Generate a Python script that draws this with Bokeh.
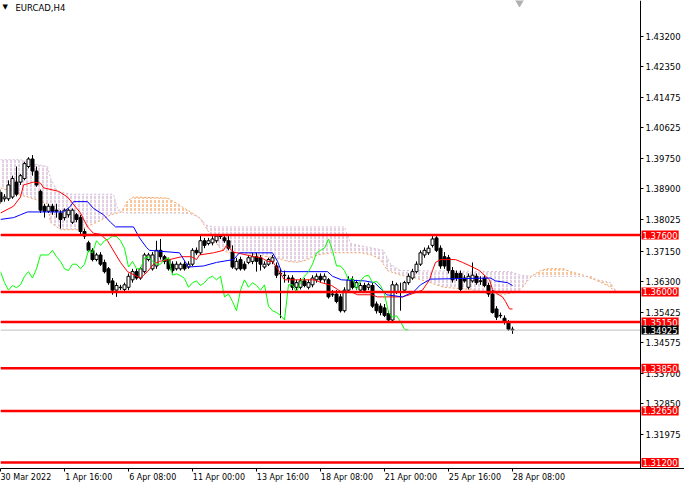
from bokeh.plotting import figure
from bokeh.models import Range1d, FixedTicker, PrintfTickFormatter, Label, ColumnDataSource, LinearAxis
from bokeh.embed import file_html
from bokeh.resources import INLINE

# ---------------- data (EURCAD H4, bar index 0 = 30 Mar 2022 00:00) ----------------
opens = [
    1.3880, 1.3862, 1.3862, 1.3867, 1.3909, 1.3909, 1.3919, 1.3953, 1.3974, 1.3940,
    1.3883, 1.3841, 1.3827, 1.3841, 1.3830, 1.3822, 1.3809, 1.3817, 1.3796, 1.3817,
    1.3809, 1.3770, 1.3738, 1.3717, 1.3691, 1.3704, 1.3683, 1.3665, 1.3631, 1.3605,
    1.3613, 1.3607, 1.3613, 1.3634, 1.3657, 1.3639, 1.3657, 1.3691, 1.3665, 1.3673,
    1.3717, 1.3699, 1.3691, 1.3678, 1.3665, 1.3665, 1.3678, 1.3670, 1.3678, 1.3717,
    1.3710, 1.3744, 1.3736, 1.3738, 1.3744, 1.3757, 1.3752, 1.3744, 1.3712, 1.3665,
    1.3691, 1.3678, 1.3683, 1.3686, 1.3699, 1.3696, 1.3670, 1.3678, 1.3686, 1.3673,
    1.3652, 1.3647, 1.3639, 1.3639, 1.3613, 1.3613, 1.3631, 1.3613, 1.3620, 1.3634,
    1.3644, 1.3634, 1.3634, 1.3592, 1.3594, 1.3586, 1.3547, 1.3605, 1.3634, 1.3613,
    1.3605, 1.3618, 1.3613, 1.3618, 1.3566, 1.3560, 1.3555, 1.3539, 1.3521, 1.3600,
    1.3600, 1.3605, 1.3626, 1.3639, 1.3657, 1.3678, 1.3704, 1.3710, 1.3731, 1.3752,
    1.3723, 1.3699, 1.3696, 1.3660, 1.3652, 1.3652, 1.3639, 1.3613, 1.3631, 1.3644,
    1.3631, 1.3639, 1.3618, 1.3594, 1.3552, 1.3534, 1.3526, 1.3516, 1.3495]
highs = [
    1.3888, 1.3875, 1.3914, 1.3927, 1.3953, 1.3932, 1.3966, 1.3979, 1.3985, 1.3953,
    1.3888, 1.3848, 1.3848, 1.3848, 1.3848, 1.3830, 1.3835, 1.3835, 1.3835, 1.3822,
    1.3817, 1.3778, 1.3744, 1.3723, 1.3710, 1.3712, 1.3691, 1.3670, 1.3639, 1.3626,
    1.3620, 1.3626, 1.3652, 1.3665, 1.3665, 1.3670, 1.3710, 1.3710, 1.3712, 1.3744,
    1.3749, 1.3704, 1.3696, 1.3686, 1.3686, 1.3683, 1.3686, 1.3686, 1.3723, 1.3725,
    1.3762, 1.3752, 1.3752, 1.3757, 1.3762, 1.3762, 1.3757, 1.3757, 1.3731, 1.3696,
    1.3699, 1.3686, 1.3704, 1.3710, 1.3710, 1.3704, 1.3686, 1.3696, 1.3704, 1.3683,
    1.3665, 1.3660, 1.3647, 1.3647, 1.3634, 1.3639, 1.3639, 1.3634, 1.3647, 1.3652,
    1.3652, 1.3652, 1.3639, 1.3605, 1.3605, 1.3594, 1.3613, 1.3644, 1.3644, 1.3634,
    1.3626, 1.3626, 1.3626, 1.3626, 1.3573, 1.3568, 1.3566, 1.3547, 1.3631, 1.3626,
    1.3626, 1.3631, 1.3652, 1.3665, 1.3686, 1.3717, 1.3725, 1.3731, 1.3757, 1.3757,
    1.3731, 1.3712, 1.3704, 1.3670, 1.3660, 1.3660, 1.3647, 1.3652, 1.3683, 1.3652,
    1.3644, 1.3647, 1.3626, 1.3605, 1.3560, 1.3542, 1.3534, 1.3521, 1.3502]
lows = [
    1.3848, 1.3854, 1.3856, 1.3862, 1.3869, 1.3901, 1.3914, 1.3948, 1.3927, 1.3896,
    1.3822, 1.3809, 1.3822, 1.3817, 1.3809, 1.3778, 1.3801, 1.3809, 1.3791, 1.3796,
    1.3762, 1.3749, 1.3712, 1.3686, 1.3686, 1.3673, 1.3652, 1.3620, 1.3592, 1.3586,
    1.3605, 1.3602, 1.3605, 1.3626, 1.3634, 1.3634, 1.3652, 1.3686, 1.3660, 1.3665,
    1.3691, 1.3678, 1.3660, 1.3652, 1.3660, 1.3660, 1.3660, 1.3665, 1.3673, 1.3704,
    1.3704, 1.3723, 1.3731, 1.3731, 1.3738, 1.3749, 1.3738, 1.3717, 1.3665, 1.3660,
    1.3660, 1.3660, 1.3678, 1.3678, 1.3657, 1.3660, 1.3665, 1.3673, 1.3678, 1.3639,
    1.3526, 1.3626, 1.3626, 1.3605, 1.3605, 1.3607, 1.3613, 1.3607, 1.3613, 1.3626,
    1.3626, 1.3626, 1.3581, 1.3586, 1.3568, 1.3542, 1.3542, 1.3600, 1.3607, 1.3605,
    1.3600, 1.3600, 1.3605, 1.3555, 1.3539, 1.3534, 1.3529, 1.3516, 1.3516, 1.3594,
    1.3547, 1.3600, 1.3620, 1.3634, 1.3652, 1.3673, 1.3696, 1.3704, 1.3725, 1.3712,
    1.3665, 1.3665, 1.3652, 1.3626, 1.3631, 1.3600, 1.3626, 1.3607, 1.3626, 1.3620,
    1.3620, 1.3613, 1.3586, 1.3539, 1.3521, 1.3526, 1.3508, 1.3490, 1.3482]
closes = [
    1.3854, 1.3867, 1.3901, 1.3919, 1.3875, 1.3927, 1.3961, 1.3974, 1.3940, 1.3901,
    1.3830, 1.3827, 1.3841, 1.3827, 1.3827, 1.3804, 1.3830, 1.3830, 1.3830, 1.3804,
    1.3770, 1.3757, 1.3717, 1.3691, 1.3704, 1.3678, 1.3657, 1.3626, 1.3605, 1.3618,
    1.3612, 1.3620, 1.3644, 1.3657, 1.3639, 1.3665, 1.3704, 1.3704, 1.3704, 1.3717,
    1.3699, 1.3686, 1.3665, 1.3660, 1.3678, 1.3678, 1.3665, 1.3678, 1.3717, 1.3710,
    1.3744, 1.3731, 1.3744, 1.3749, 1.3757, 1.3756, 1.3744, 1.3723, 1.3670, 1.3686,
    1.3665, 1.3665, 1.3696, 1.3699, 1.3686, 1.3678, 1.3678, 1.3691, 1.3696, 1.3647,
    1.3651, 1.3646, 1.3638, 1.3613, 1.3626, 1.3631, 1.3618, 1.3626, 1.3639, 1.3644,
    1.3634, 1.3644, 1.3586, 1.3594, 1.3573, 1.3547, 1.3605, 1.3634, 1.3613, 1.3626,
    1.3618, 1.3605, 1.3620, 1.3560, 1.3547, 1.3542, 1.3534, 1.3521, 1.3620, 1.3620,
    1.3599, 1.3626, 1.3644, 1.3657, 1.3678, 1.3710, 1.3717, 1.3723, 1.3749, 1.3717,
    1.3673, 1.3673, 1.3660, 1.3634, 1.3639, 1.3607, 1.3631, 1.3644, 1.3647, 1.3626,
    1.3630, 1.3618, 1.3594, 1.3542, 1.3529, 1.3533, 1.3516, 1.3495, 1.34925]

# Ichimoku lines (bar index, price)
tenkan_x = [0, 3.25, 5, 5.75, 8.25, 10, 10.75, 14.5, 16.75, 20, 21.75, 23.25, 25, 26.75, 30, 31.75,
            35, 36.75, 38.25, 39.75, 42.25, 45.25, 47.75, 49, 49.75, 53.25, 55.75, 56.5, 57.25, 58.25,
            63.5, 65.25, 66.75, 68, 69.25, 71, 78.5, 80.25, 82.75, 84.25, 85.25, 87.75, 89.25, 92.75,
            94.25, 100.5, 102.25, 105.5, 107.25, 108, 108.75, 110, 113.75, 115.5, 118, 119.75, 120.5,
            122.25, 123, 124.25, 125.5, 126.25, 127.25, 128]
tenkan_y = [1.3822, 1.3841, 1.3867, 1.3901, 1.3909, 1.3906, 1.3893, 1.3883, 1.3867, 1.3822, 1.3783,
            1.3765, 1.3762, 1.3744, 1.3683, 1.3657, 1.3639, 1.3657, 1.3678, 1.3686, 1.3691, 1.3699,
            1.3699, 1.3691, 1.3704, 1.3710, 1.3717, 1.3731, 1.3723, 1.3712, 1.3699, 1.3696, 1.3686,
            1.3686, 1.3665, 1.3634, 1.3634, 1.3626, 1.3618, 1.3607, 1.3600, 1.3600, 1.3592, 1.3592,
            1.3586, 1.3586, 1.3592, 1.3605, 1.3634, 1.3660, 1.3683, 1.3691, 1.3691, 1.3683, 1.3670,
            1.3660, 1.3652, 1.3634, 1.3607, 1.3594, 1.3586, 1.3573, 1.3552, 1.3552]
kijun_x = [0, 3.25, 5, 6.75, 15.75, 17.5, 18.25, 21.75, 23.25, 25.75, 27.5, 28.75, 33.25, 34.75,
           36.5, 37.25, 44.75, 47, 50.75, 54, 58.25, 59.75, 68, 69.25, 70.25, 81.75, 83, 85.25, 91,
           93.5, 95.25, 96.5, 100.5, 103.25, 105, 107.5, 122.5, 123.75, 126.75, 128]
kijun_y = [1.3804, 1.3809, 1.3817, 1.3825, 1.3825, 1.3841, 1.3854, 1.3854, 1.3835, 1.3817, 1.3796,
           1.3783, 1.3783, 1.3752, 1.3725, 1.3717, 1.3710, 1.3670, 1.3673, 1.3683, 1.3691, 1.3710,
           1.3710, 1.3686, 1.3657, 1.3657, 1.3644, 1.3634, 1.3631, 1.3626, 1.3607, 1.3592, 1.3586,
           1.3600, 1.3620, 1.3636, 1.3639, 1.3631, 1.3626, 1.3618]
span_a_x = [0, 4.25, 8.25, 11.75, 12.5, 15, 20, 22.5, 25, 27.5, 30.25, 31.75, 33.25, 41.75, 44.25,
            46.75, 49.75, 51.5, 53.25, 54.75, 56.5, 60.75, 64, 68.5, 71.75, 74.25, 76.75, 79.25,
            82.75, 90.25, 92.75, 95, 96.75, 100, 103.75, 107.5, 110.75, 117.5, 122.5, 126.25,
            129.25, 130.5, 131.75, 132.75, 135, 136.75, 140.75, 142.5, 145.75, 149.25, 151.75, 154]
span_a_y = [1.3893, 1.3875, 1.3862, 1.3848, 1.3796, 1.3775, 1.3775, 1.3788, 1.3801, 1.3817, 1.3825,
            1.3856, 1.3867, 1.3864, 1.3848, 1.3830, 1.3809, 1.3778, 1.3749, 1.3725, 1.3712, 1.3710,
            1.3704, 1.3696, 1.3686, 1.3683, 1.3691, 1.3704, 1.3710, 1.3710, 1.3704, 1.3691, 1.3660,
            1.3647, 1.3639, 1.3626, 1.3613, 1.3607, 1.3594, 1.3594, 1.3600, 1.3613, 1.3631, 1.3644,
            1.3660, 1.3665, 1.3665, 1.3657, 1.3647, 1.3631, 1.3618, 1.3600]
span_b_x = [0, 5, 9.25, 11.75, 12.5, 14.25, 17.5, 28.25, 29.25, 30.25, 31.75, 45, 47.5, 49.75, 51.5,
            53.25, 86, 87.5, 95.75, 97.5, 100, 127.5, 130, 132.75, 147.5, 149.25, 152.5, 154]
span_b_y = [1.3972, 1.3972, 1.3958, 1.3953, 1.3919, 1.3883, 1.3875, 1.3875, 1.3835, 1.3825, 1.3822,
            1.3822, 1.3820, 1.3809, 1.3788, 1.3783, 1.3783, 1.3736, 1.3717, 1.3678, 1.3660, 1.3657,
            1.3647, 1.3644, 1.3644, 1.3634, 1.3626, 1.3600]
chikou_shift = 26

levels = [1.37600, 1.36000, 1.35150, 1.33850, 1.32650, 1.31200]
current_price = 1.34925
price_ticks = [1.43200, 1.42350, 1.41475, 1.40625, 1.39750, 1.38900, 1.38025, 1.37150,
               1.36300, 1.35425, 1.34575, 1.33700, 1.32850, 1.31975]
date_ticks = [0, 16, 32, 48, 64, 80, 96, 112, 128]
date_labels = ["30 Mar 2022", "1 Apr 16:00", "6 Apr 08:00", "11 Apr 00:00", "13 Apr 16:00",
               "18 Apr 08:00", "21 Apr 00:00", "25 Apr 16:00", "28 Apr 08:00"]
title_text = "EURCAD,H4"

# ---------------- figure ----------------
W, H = 684, 484
X0, X1 = 0.0, 171.0          # 4 px per H4 bar across the whole width
AX = 160.0                   # bar position of the price scale line
Y0, Y1 = 1.31031, 1.44200
FONT = "DejaVu Sans"

p = figure(width=W, height=H, x_range=Range1d(X0, X1), y_range=Range1d(Y0, Y1),
           output_backend="svg", toolbar_location=None, y_axis_location=None,
           min_border_left=0, min_border_top=0, min_border_right=0, min_border_bottom=12)
p.outline_line_color = None
p.xgrid.visible = False
p.ygrid.visible = False
p.background_fill_color = "white"
p.border_fill_color = "white"

# price axis placed at the price-scale line inside the frame
ya = LinearAxis(fixed_location=AX)
ya.ticker = FixedTicker(ticks=price_ticks, minor_ticks=[])
ya.formatter = PrintfTickFormatter(format="%.5f")
ya.major_label_text_font = FONT
ya.major_label_text_font_size = "8.5px"
ya.major_label_text_color = "black"
ya.major_tick_in = 0
ya.major_tick_out = 3
ya.major_label_standoff = 2
ya.axis_line_color = "black"
ya.major_tick_line_color = "black"
p.add_layout(ya, "right")

# time axis: tick marks at bars, labels left-aligned next to them
label_pos = []
overrides = {}
for t, lab in zip(date_ticks, date_labels):
    c = round(max(t, X0) + len(lab) * 0.55, 2)
    label_pos.append(c)
    overrides[c] = lab
xa = p.xaxis[0]
xa.ticker = FixedTicker(ticks=label_pos, minor_ticks=date_ticks)
xa.major_label_overrides = overrides
xa.major_tick_line_color = None
xa.major_tick_in = 0
xa.major_tick_out = 1
xa.minor_tick_in = 0
xa.minor_tick_out = 3
xa.minor_tick_line_color = "black"
xa.major_label_standoff = 1
xa.major_label_text_font = FONT
xa.major_label_text_font_size = "8px"
xa.major_label_text_color = "black"
xa.axis_line_color = "black"

# ---------------- Ichimoku cloud ----------------
TH = "#D8BFD8"
SB = "#F4A460"
cloud_x = span_a_x + span_b_x[::-1]
cloud_y = span_a_y + span_b_y[::-1]
p.patch(cloud_x, cloud_y, fill_alpha=0, line_alpha=0,
        hatch_pattern="vertical_dash", hatch_color=TH, hatch_scale=4, hatch_weight=1.5)
for lo, hi in [(30.25, 49.75), (132.75, 154)]:
    ax = [x for x in span_a_x if lo <= x <= hi]
    ay = [y for x, y in zip(span_a_x, span_a_y) if lo <= x <= hi]
    bx = [x for x in span_b_x if lo <= x <= hi]
    by = [y for x, y in zip(span_b_x, span_b_y) if lo <= x <= hi]
    p.patch(ax + bx[::-1], ay + by[::-1], fill_color="white", fill_alpha=1, line_alpha=0,
            hatch_pattern="vertical_dash", hatch_color=SB, hatch_scale=4, hatch_weight=1.2)
p.line(span_a_x, span_a_y, color=SB, line_width=1, line_dash="2 2")
p.line(span_b_x, span_b_y, color=TH, line_width=1, line_dash="2 2")

# ---------------- candles ----------------
bars = list(range(len(closes)))
src = ColumnDataSource(dict(
    x=bars, high=highs, low=lows,
    top=[max(o, c) for o, c in zip(opens, closes)],
    bottom=[min(o, c) for o, c in zip(opens, closes)],
    fill=["white" if c >= o else "black" for o, c in zip(opens, closes)],
))
p.segment(x0="x", y0="low", x1="x", y1="high", source=src, line_color="black", line_width=1)
p.vbar(x="x", width=0.75, top="top", bottom="bottom", source=src,
       fill_color="fill", line_color="black", line_width=1)

# ---------------- indicator lines ----------------
p.line(tenkan_x, tenkan_y, color="#FF0000", line_width=1)
p.line(kijun_x, kijun_y, color="#0000FF", line_width=1)
chikou_x = [b - chikou_shift for b in bars[chikou_shift:]]
chikou_y = closes[chikou_shift:]
p.line(chikou_x, chikou_y, color="#00FF00", line_width=1)

# ---------------- horizontal levels ----------------
p.segment(x0=[X0], x1=[AX], y0=[current_price], y1=[current_price], line_color="#C0C0C0", line_width=1)
p.segment(x0=[X0] * len(levels), x1=[AX] * len(levels), y0=levels, y1=levels,
          line_color="#FF0000", line_width=2.5)
for lv in levels:
    p.add_layout(Label(x=AX, y=lv, text=f"{lv:.5f}", text_align="left", text_baseline="middle",
                       x_offset=1, text_font=FONT, text_font_size="8.5px", text_color="white",
                       background_fill_color="#FF0000", padding=1))
p.add_layout(Label(x=AX, y=current_price, text=f"{current_price:.5f}", text_align="left",
                   text_baseline="middle", x_offset=1, text_font=FONT, text_font_size="8.5px",
                   text_color="white", background_fill_color="#000000", padding=1))

# ---------------- title and chart-shift marker ----------------
ty = Y1 - (Y1 - Y0) * 3 / 470
p.add_layout(Label(x=X0, y=ty, text="\u25BC", text_align="left", text_baseline="top",
                   x_offset=2, text_font=FONT, text_font_size="7px", text_color="black"))
p.add_layout(Label(x=X0, y=ty, text=title_text, text_align="left", text_baseline="top",
                   x_offset=15, text_font=FONT, text_font_size="8.5px", text_color="black"))
p.scatter(x=[bars[-1] + 1.75], y=[Y1], marker="inverted_triangle", size=11,
          fill_color="#B0B0B0", line_color="#B0B0B0")

open("out.html", "w").write(file_html(p, INLINE))
